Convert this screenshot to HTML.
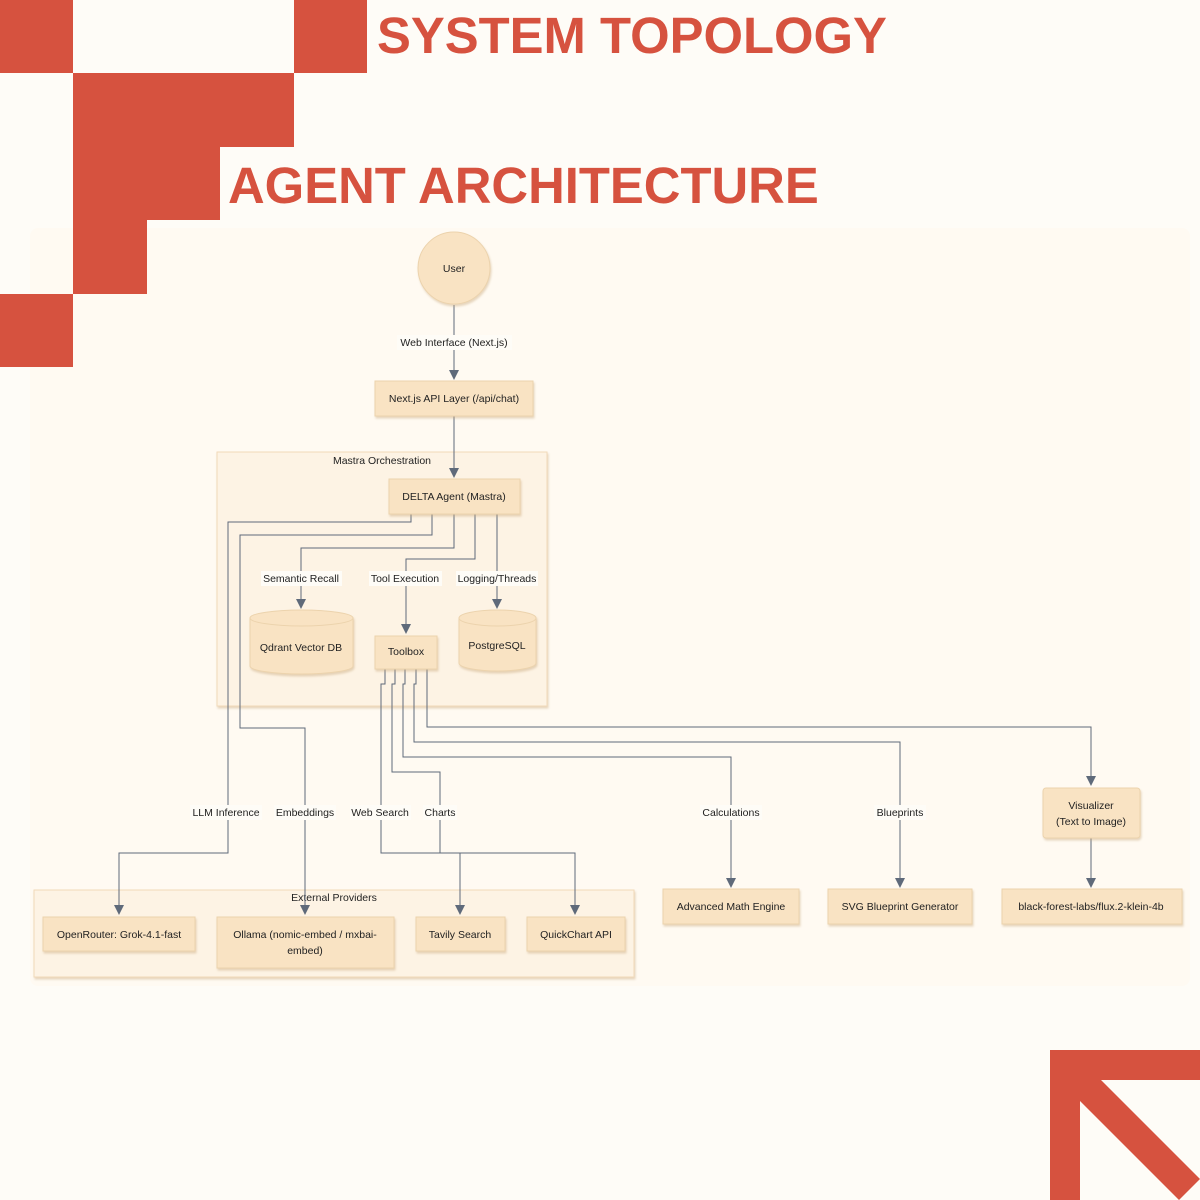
<!DOCTYPE html>
<html><head><meta charset="utf-8"><style>
html,body{margin:0;padding:0;background:#fefcf7;}
svg{display:block;}
text{font-family:"Liberation Sans",sans-serif;}
.t{font-size:10.5px;fill:#222;text-anchor:middle;}
.n{fill:#f9e3c3;stroke:#ecd3ad;stroke-width:1;filter:url(#sh);}
.e{fill:none;stroke:#5f6a7a;stroke-width:1;}
.lb{fill:#fefcf7;}
</style></head><body>
<svg width="1200" height="1200" viewBox="0 0 1200 1200" xmlns="http://www.w3.org/2000/svg">
<defs>
<filter id="sh" x="-10%" y="-10%" width="130%" height="140%"><feDropShadow dx="1" dy="2" stdDeviation="1" flood-color="#c9a77a" flood-opacity="0.45"/></filter>
<marker id="a" markerWidth="10" markerHeight="10" refX="8" refY="5" orient="auto" markerUnits="userSpaceOnUse"><path d="M0,0 L10,5 L0,10 z" fill="#5f6a7a"/></marker>
</defs>
<rect width="1200" height="1200" fill="#fefcf7"/>
<rect x="30" y="228" width="1160" height="758" rx="8" fill="#fffaf2"/>
<g fill="#d6523f">
<rect x="0" y="0" width="73" height="73"/>
<rect x="294" y="0" width="73" height="73"/>
<rect x="73" y="73" width="221" height="74"/>
<rect x="73" y="146" width="147" height="74"/>
<rect x="73" y="219" width="74" height="75"/>
<rect x="0" y="294" width="73" height="73"/>
<polygon points="1050,1050 1200,1050 1200,1080 1101,1080 1200,1179 1179,1200 1080,1101 1080,1200 1050,1200"/>
</g>
<text x="377" y="53" font-weight="bold" fill="#d6523f" style="font-size:50.8px">SYSTEM TOPOLOGY</text>
<text x="228" y="203" font-weight="bold" fill="#d6523f" style="font-size:50.8px">AGENT ARCHITECTURE</text>

<rect x="217" y="452" width="330" height="254" fill="#fdf3e4" stroke="#f1d9b9" filter="url(#sh)"/>
<text class="t" x="382" y="464">Mastra Orchestration</text>
<rect x="34" y="890" width="600" height="87" fill="#fdf3e4" stroke="#f1d9b9" filter="url(#sh)"/>
<text class="t" x="334" y="901">External Providers</text>

<g class="e">
<path d="M454,305 V378" marker-end="url(#a)"/>
<path d="M454,416 V476" marker-end="url(#a)"/>
<path d="M411,514 V522 H228 V853 H119 V913" marker-end="url(#a)"/>
<path d="M432,514 V535 H240 V728 H305 V913" marker-end="url(#a)"/>
<path d="M454,514 V548 H301 V607" marker-end="url(#a)"/>
<path d="M475,514 V559 H406 V632" marker-end="url(#a)"/>
<path d="M497,514 V607" marker-end="url(#a)"/>
<path d="M385,669 V684 H381 V853 H460 V913" marker-end="url(#a)"/>
<path d="M395,669 V684 H392 V772 H440 V853 H575 V913" marker-end="url(#a)"/>
<path d="M405,669 V684 H403 V757 H731 V886" marker-end="url(#a)"/>
<path d="M416,669 V684 H414 V742 H900 V886" marker-end="url(#a)"/>
<path d="M427,669 V727 H1091 V784" marker-end="url(#a)"/>
<path d="M1091,838 V886" marker-end="url(#a)"/>
</g>

<g>
<rect class="lb" x="397" y="335" width="115" height="15"/><text class="t" x="454" y="346">Web Interface (Next.js)</text>
<rect class="lb" x="261" y="571" width="81" height="15"/><text class="t" x="301" y="582">Semantic Recall</text>
<rect class="lb" x="369" y="571" width="73" height="15"/><text class="t" x="405" y="582">Tool Execution</text>
<rect class="lb" x="456" y="571" width="82" height="15"/><text class="t" x="497" y="582">Logging/Threads</text>
<rect class="lb" x="190" y="805" width="72" height="15"/><text class="t" x="226" y="816">LLM Inference</text>
<rect class="lb" x="274" y="805" width="62" height="15"/><text class="t" x="305" y="816">Embeddings</text>
<rect class="lb" x="350" y="805" width="61" height="15"/><text class="t" x="380" y="816">Web Search</text>
<rect class="lb" x="423" y="805" width="34" height="15"/><text class="t" x="440" y="816">Charts</text>
<rect class="lb" x="700" y="805" width="62" height="15"/><text class="t" x="731" y="816">Calculations</text>
<rect class="lb" x="874" y="805" width="52" height="15"/><text class="t" x="900" y="816">Blueprints</text>
</g>

<circle class="n" cx="454" cy="268" r="36"/><text class="t" x="454" y="272">User</text>
<rect class="n" x="375" y="381" width="158" height="35"/><text class="t" x="454" y="402">Next.js API Layer (/api/chat)</text>
<rect class="n" x="389" y="479" width="131" height="35"/><text class="t" x="454" y="500">DELTA Agent (Mastra)</text>
<g filter="url(#sh)">
<path d="M250,618 V666 A51.5,8 0 0 0 353,666 V618 Z" fill="#f9e3c3" stroke="#ecd3ad"/>
<ellipse cx="301.5" cy="618" rx="51.5" ry="8" fill="#f9e3c3" stroke="#ecd3ad"/>
<path d="M459,618 V663 A38.5,8 0 0 0 536,663 V618 Z" fill="#f9e3c3" stroke="#ecd3ad"/>
<ellipse cx="497.5" cy="618" rx="38.5" ry="8" fill="#f9e3c3" stroke="#ecd3ad"/>
</g>
<text class="t" x="301" y="651">Qdrant Vector DB</text>
<text class="t" x="497" y="649">PostgreSQL</text>
<rect class="n" x="375" y="636" width="62" height="33"/><text class="t" x="406" y="655">Toolbox</text>
<rect class="n" x="1043" y="788" width="97" height="50" rx="3"/><text class="t" x="1091" y="809">Visualizer</text><text class="t" x="1091" y="825">(Text to Image)</text>
<rect class="n" x="43" y="917" width="152" height="34"/><text class="t" x="119" y="938">OpenRouter: Grok-4.1-fast</text>
<rect class="n" x="217" y="917" width="177" height="51"/><text class="t" x="305" y="938">Ollama (nomic-embed / mxbai-</text><text class="t" x="305" y="954">embed)</text>
<rect class="n" x="416" y="917" width="89" height="34"/><text class="t" x="460" y="938">Tavily Search</text>
<rect class="n" x="527" y="917" width="98" height="34"/><text class="t" x="576" y="938">QuickChart API</text>
<rect class="n" x="663" y="889" width="136" height="35"/><text class="t" x="731" y="910">Advanced Math Engine</text>
<rect class="n" x="828" y="889" width="144" height="35"/><text class="t" x="900" y="910">SVG Blueprint Generator</text>
<rect class="n" x="1002" y="889" width="180" height="35"/><text class="t" x="1091" y="910">black-forest-labs/flux.2-klein-4b</text>
</svg>
</body></html>
